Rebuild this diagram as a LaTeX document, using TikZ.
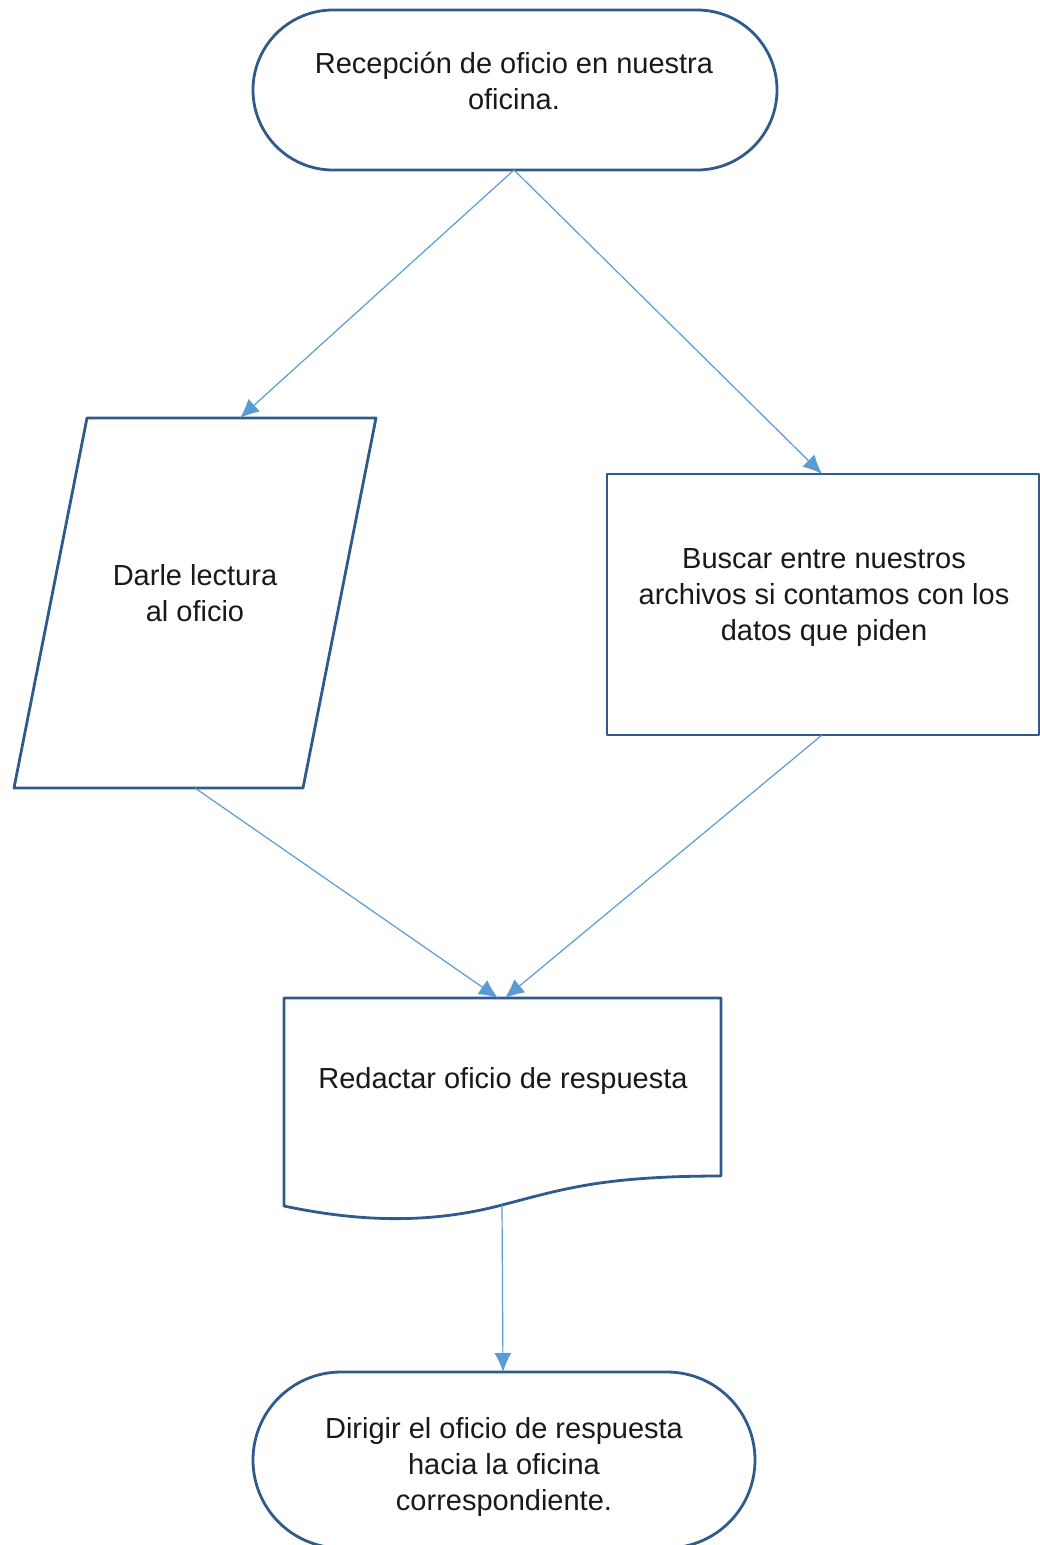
\documentclass[tikz,border=0pt]{standalone}
\usepackage{fontspec}
\setmainfont{Liberation Sans}
\usepackage{xcolor}
\usetikzlibrary{positioning,arrows.meta}
\definecolor{shapeblue}{HTML}{2F5A8C}
\definecolor{arrowblue}{HTML}{5B9BD5}
\tikzset{
shapeline/.style={
draw=shapeblue,
line width=2.8pt,
line join=round
},
label/.style={
align=center,
text=black!90,
font=\fontsize{29}{36}\selectfont
},
arrow/.style={
-{Latex[length=19pt,width=17pt]},
draw=arrowblue,
line width=1.2pt
}
}

\begin{document}
\begin{tikzpicture}[x=1pt,y=-1pt]

\useasboundingbox (0,0) rectangle (1039,1545);

% shapes
\draw[shapeline,rounded corners=80pt](253,10) rectangle (777,170);

\draw[shapeline](87,418)--(376,418)--(303,788)--(14,788)--cycle;

\draw[shapeline](607,474) rectangle (1039,735);

\draw[shapeline](284,998)--(721,998)--(721,1176)
.. controls (600,1176) and (560,1190) .. (502,1205)
.. controls (430,1224) and (360,1222) .. (284,1206)--cycle;

\draw[shapeline,rounded corners=88pt](253,1372) rectangle (755,1548);

% texts
\node[label](recepcion) at (514,81){Recepción de oficio en nuestra\\oficina.};

\node[label](lectura) at (195,593){Darle lectura\\al oficio};

\node[label](buscar) at (824,598){Buscar entre nuestros\\archivos si contamos con los\\datos que piden};

\node[label](redactar) at (503,1081){Redactar oficio de respuesta};

\node[label](dirigir) at (504,1467){Dirigir el oficio de respuesta\\hacia la oficina\\correspondiente.};

% connector ends
\coordinate (recepcion-s) at (514,170);
\coordinate (lectura-n) at (240,418);
\coordinate (lectura-s) at (195,788);
\coordinate (buscar-n) at (822,474);
\coordinate (buscar-s) at (822,735);
\coordinate (redactar-nl) at (498,998);
\coordinate (redactar-nr) at (505,998);
\coordinate (redactar-s) at (502,1205);
\coordinate (dirigir-n) at (503,1372);

\draw[arrow](recepcion-s)--(lectura-n);

\draw[arrow](recepcion-s)--(buscar-n);

\draw[arrow](lectura-s)--(redactar-nl);

\draw[arrow](buscar-s)--(redactar-nr);

\draw[arrow](redactar-s)--(dirigir-n);

\end{tikzpicture}
\end{document}
